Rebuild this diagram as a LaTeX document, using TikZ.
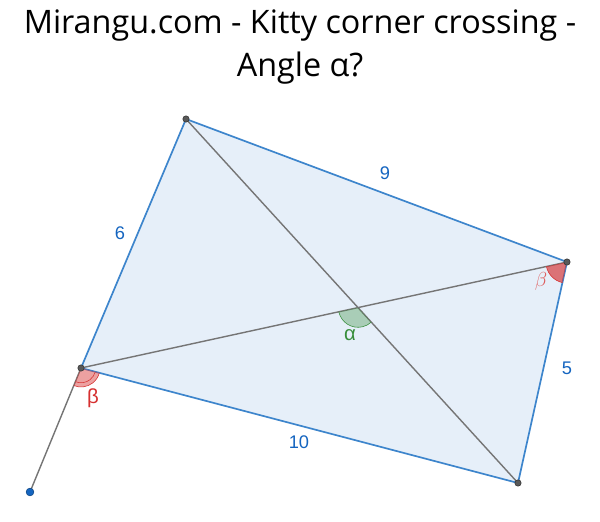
\documentclass[tikz,border=0pt]{standalone}
\usepackage{fontspec}
\setmainfont{Open Sans}
\newfontfamily\lblfont{Liberation Sans}
\usetikzlibrary{angles, calc}
\definecolor{edgeblue}{RGB}{61,133,204}
\definecolor{fillblue}{RGB}{230,239,249}
\definecolor{lblblue}{RGB}{21,101,192}
\definecolor{diagray}{RGB}{117,117,117}
\definecolor{angred}{RGB}{214,48,48}
\definecolor{anggreen}{RGB}{56,142,60}
\tikzset{
    edge/.style={draw=edgeblue, line width=1.2pt},
    diag/.style={draw=diagray, line width=1pt},
    vertex/.style={circle, fill=black!65, draw=black!80, inner sep=0pt, minimum size=4.5pt},
    freept/.style={circle, fill=lblblue, draw=lblblue!70!black, inner sep=0pt, minimum size=5.5pt},
    sidelbl/.style={text=lblblue, font=\lblfont\fontsize{13}{15}\selectfont},
    anglbl/.style={font=\lblfont\fontsize{14.5}{16}\selectfont},
    title/.style={align=center, font=\fontsize{23}{30.5}\selectfont}
}

\begin{document}
\begin{tikzpicture}[x=0.025cm, y=-0.025cm]

    % Frame
    \path[use as bounding box, fill=white] (0,0) rectangle (600,521);

    % Title
    \node[title] (head) at (300,47) {Mirangu.com - Kitty corner crossing -\\ Angle α?};

    % Points
    \coordinate (T) at (186,119);
    \coordinate (C) at (567,262);
    \coordinate (B) at (518,483);
    \coordinate (A) at (81,368);
    \coordinate (P) at (30,492);
    \coordinate (X) at (intersection of T--B and A--C);

    % Shape
    \fill[fillblue] (T) -- (C) -- (B) -- (A) -- cycle;
    \draw[diag] (T) -- (B);
    \draw[diag] (A) -- (C);
    \draw[diag] (A) -- (P);
    \draw[edge] (T) -- (C) -- (B) -- (A) -- cycle;

    % Angles
    \pic[draw=angred, fill=angred, fill opacity=0.45, angle radius=13.5pt] {angle = P--A--B};
    \pic[draw=angred, angle radius=10.5pt] {angle = P--A--B};
    \pic[draw=angred, fill=angred, fill opacity=0.65, angle radius=15pt] {angle = A--C--B};
    \pic[draw=anggreen, fill=anggreen, fill opacity=0.35, angle radius=14pt] {angle = A--X--B};

    % Dots
    \node[vertex] (dT) at (T) {};
    \node[vertex] (dC) at (C) {};
    \node[vertex] (dB) at (B) {};
    \node[vertex] (dA) at (A) {};
    \node[freept] (dP) at (P) {};

    % Labels
    \node[sidelbl] (l6) at (120,233) {6};
    \node[sidelbl] (l9) at (385,173) {9};
    \node[sidelbl] (l5) at (567,368) {5};
    \node[sidelbl] (l10) at (299,442) {10};
    \node[anglbl, text=angred] (bA) at (93,398) {β};
    \node[anglbl, text=angred!80] (bC) at (541,281) {$\beta$};
    \node[anglbl, text=anggreen] (aX) at (350,335) {α};

\end{tikzpicture}
\end{document}
